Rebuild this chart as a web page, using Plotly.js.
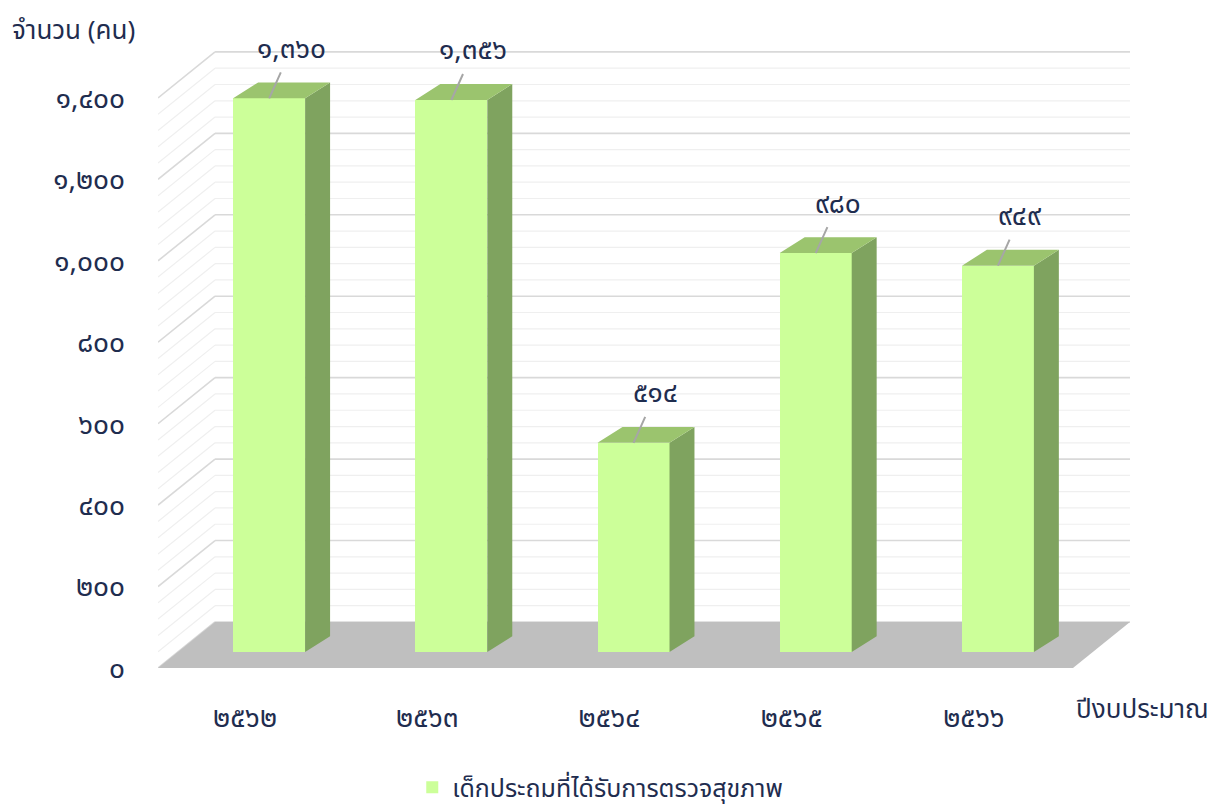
<!DOCTYPE html>
<html>
<head>
<meta charset="utf-8">
<script src="https://cdn.plot.ly/plotly-3.0.1.min.js"></script>
<style>html,body{margin:0;padding:0;background:#fff;}#chart{width:1214px;height:810px;}</style>
</head>
<body>
<div id="chart"></div>
<script>
// ---- data ----
const categories = ['๒๕๖๒', '๒๕๖๓', '๒๕๖๔', '๒๕๖๕', '๒๕๖๖'];
const values = [1360, 1356, 514, 980, 949];
const yTickValues = [0, 200, 400, 600, 800, 1000, 1200, 1400];
const seriesName = 'เด็กประถมที่ได้รับการตรวจสุขภาพ';
const yTitle = 'จำนวน (คน)';
const xTitle = 'ปีงบประมาณ';

// ---- helpers ----
const thaiDigits = '๐๑๒๓๔๕๖๗๘๙';
function toThai(n) {
  const s = n.toLocaleString('en-US');
  return s.replace(/[0-9]/g, d => thaiDigits[+d]);
}

// ---- 3D geometry (axis units) ----
const X0 = -0.478, X1 = 4.857, YMAX = 1530;
const BACK_DX = 0.313, BACK_DY = 113;   // depth of floor / walls
const BAR_DX = 0.132, BAR_DY = 39;      // bar front plane offset
const BAR_W = 0.395;
const SIDE_DX = 0.137, SIDE_DY = 39;    // bar depth
const TEXT = '#1f2d4f';
const FONT = 'Tahoma, "Noto Sans Thai", "Noto Sans", sans-serif';

const idx = categories.map((c, i) => i);
const barX = idx.map(i => i + BAR_DX);

// top & side faces
const topX = [], topY = [], sideX = [], sideY = [];
values.forEach((v, i) => {
  const xl = barX[i] - BAR_W / 2, xr = barX[i] + BAR_W / 2;
  const t = v + BAR_DY, b = BAR_DY;
  topX.push(xl, xr, xr + SIDE_DX, xl + SIDE_DX, xl, null);
  topY.push(t, t, t + SIDE_DY, t + SIDE_DY, t, null);
  sideX.push(xr, xr + SIDE_DX, xr + SIDE_DX, xr, xr, null);
  sideY.push(b, b + SIDE_DY, t + SIDE_DY, t, b, null);
});

const traces = [
  {
    type: 'bar', x: barX, y: values, base: values.map(() => BAR_DY), width: BAR_W,
    name: seriesName, marker: {color: '#ccff99', line: {width: 0}},
    hoverinfo: 'skip', showlegend: true
  },
  {
    type: 'scatter', mode: 'lines', x: sideX, y: sideY, fill: 'toself',
    fillcolor: '#7fa35f', line: {width: 0, color: '#7fa35f'}, showlegend: false, hoverinfo: 'skip'
  },
  {
    type: 'scatter', mode: 'lines', x: topX, y: topY, fill: 'toself',
    fillcolor: '#9bc46e', line: {width: 0, color: '#9bc46e'}, showlegend: false, hoverinfo: 'skip'
  }
];

// wall grid lines + floor
const shapes = [];
for (let v = 0; v <= 1400; v += 40) {
  const major = v % 200 === 0;
  const col = major ? '#d9d9d9' : '#efefef';
  const w = major ? 1.6 : 1.2;
  shapes.push({type: 'line', layer: 'below', xref: 'x', yref: 'y',
    x0: X0 + BACK_DX, x1: X1, y0: v + BACK_DY, y1: v + BACK_DY, line: {color: col, width: w}});
  shapes.push({type: 'line', layer: 'below', xref: 'x', yref: 'y',
    x0: X0, x1: X0 + BACK_DX, y0: v, y1: v + BACK_DY, line: {color: col, width: w}});
}
shapes.push({type: 'path', layer: 'below', xref: 'x', yref: 'y',
  path: `M ${X0},0 L ${X1 - BACK_DX},0 L ${X1},${BACK_DY} L ${X0 + BACK_DX},${BACK_DY} Z`,
  fillcolor: '#bfbfbf', line: {width: 0}});

// data labels
const annotations = values.map((v, i) => ({
  x: barX[i], y: v + BAR_DY, xref: 'x', yref: 'y',
  text: toThai(v), showarrow: true, arrowhead: 0, arrowwidth: 2, arrowcolor: '#a6a6a6',
  ax: 22, ay: -49, font: {size: 28, color: TEXT, family: FONT}
}));
annotations.push({xref: 'paper', yref: 'paper', x: -0.152, y: 1.023, xanchor: 'left', yanchor: 'middle',
  text: yTitle, showarrow: false, font: {size: 26, color: TEXT, family: FONT}});
annotations.push({xref: 'paper', yref: 'paper', x: 1.083, y: -0.068, xanchor: 'right', yanchor: 'middle',
  text: xTitle, showarrow: false, font: {size: 26, color: TEXT, family: FONT}});

const layout = {
  width: 1214, height: 810,
  margin: {l: 158, r: 84, t: 45, b: 142, autoexpand: false},
  paper_bgcolor: '#ffffff', plot_bgcolor: 'rgba(0,0,0,0)',
  font: {family: FONT, color: TEXT},
  bargap: 0,
  xaxis: {
    range: [X0, X1], tickvals: idx, ticktext: categories, showgrid: false, zeroline: false,
    showline: false, ticks: '', ticklabelstandoff: 30, tickfont: {size: 28, color: TEXT, family: FONT},
    fixedrange: true, automargin: false
  },
  yaxis: {
    range: [0, YMAX], tickvals: yTickValues, ticktext: yTickValues.map(toThai),
    showgrid: false, zeroline: false, showline: false, ticks: '', ticklabelstandoff: 32,
    tickfont: {size: 28, color: TEXT, family: FONT}, fixedrange: true, automargin: false
  },
  showlegend: true,
  legend: {orientation: 'h', x: 0.455, xanchor: 'center', y: -0.192, yanchor: 'middle',
    font: {size: 25, color: TEXT, family: FONT}, borderwidth: 0},
  shapes: shapes,
  annotations: annotations
};

Plotly.newPlot('chart', traces, layout, {displayModeBar: false, staticPlot: true});
</script>
</body>
</html>
